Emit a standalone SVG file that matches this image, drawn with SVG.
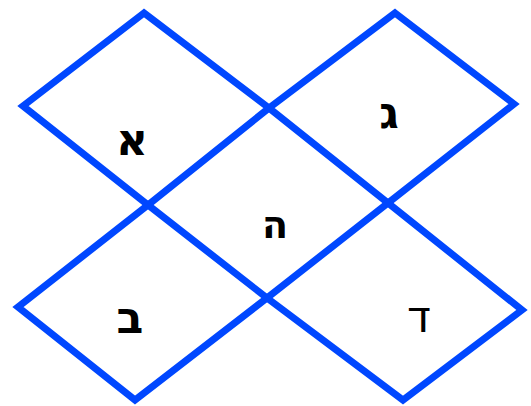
<svg xmlns="http://www.w3.org/2000/svg" width="531" height="406" viewBox="0 0 531 406">
<style>
.d{fill:none;stroke:#0047ff;stroke-width:7;stroke-linejoin:miter;stroke-linecap:round}
.t{font-family:"DejaVu Sans",sans-serif;font-size:44px;fill:#000;text-anchor:middle}
.b{font-weight:bold}
</style>
<rect width="531" height="406" fill="#fff"/>
<g id="connectors">
<g id="n1"><polygon class="d" points="144,13 23,106 148,205 269,108"/></g>
<g id="n3"><polygon class="d" points="395,13 514,104 388,203 269,108"/></g>
<g id="n2"><polygon class="d" points="148,205 18,307 135,400 267,298"/></g>
<g id="n4"><polygon class="d" points="388,203 267,298 403,400 522,310"/></g>
</g>
<g id="label-a"><text class="t b" x="132" y="155">א</text></g>
<g id="label-g"><text class="t b" x="389" y="128">ג</text></g>
<g id="label-h"><text class="t b" x="275" y="238" style="font-size:38px">ה</text></g>
<g id="label-b"><text class="t" x="130" y="333" style="font-weight:600">ב</text></g>
<g id="label-d"><text class="t" x="419" y="332">ד</text></g>
</svg>
